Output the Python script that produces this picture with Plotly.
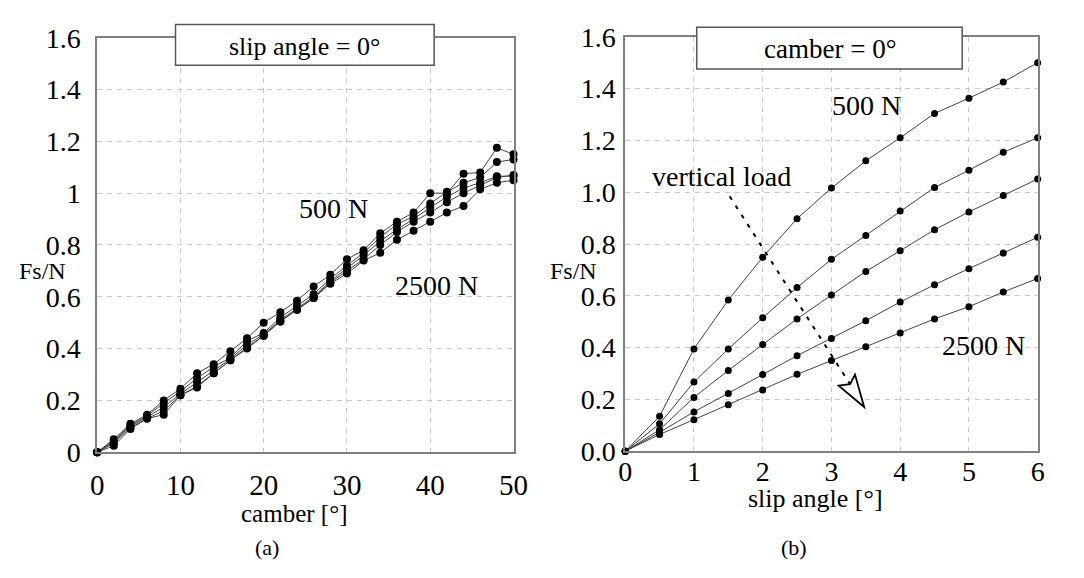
import plotly.graph_objects as go

# ---------------- data ----------------
camber = [0, 2, 4, 6, 8, 10, 12, 14, 16, 18, 20, 22, 24, 26, 28, 30, 32, 34, 36, 38, 40, 42, 44, 46, 48, 50]
fs_camber_500 = [0, 0.05, 0.11, 0.145, 0.20, 0.245, 0.305, 0.34, 0.39, 0.44, 0.50, 0.54, 0.585, 0.64, 0.685,
                 0.745, 0.78, 0.845, 0.89, 0.925, 1.00, 1.00, 1.075, 1.08, 1.175, 1.15]
fs_camber_1000 = [0, 0.045, 0.105, 0.14, 0.19, 0.235, 0.285, 0.33, 0.365, 0.43, 0.46, 0.52, 0.565, 0.61, 0.67,
                  0.72, 0.77, 0.83, 0.88, 0.91, 0.96, 1.005, 1.04, 1.06, 1.12, 1.13]
fs_camber_1500 = [0, 0.04, 0.10, 0.135, 0.175, 0.225, 0.27, 0.315, 0.36, 0.415, 0.455, 0.51, 0.555, 0.60, 0.66,
                  0.71, 0.76, 0.815, 0.86, 0.90, 0.945, 0.985, 1.02, 1.04, 1.065, 1.066]
fs_camber_2000 = [0, 0.035, 0.095, 0.13, 0.16, 0.22, 0.255, 0.305, 0.355, 0.405, 0.45, 0.505, 0.55, 0.595, 0.655,
                  0.70, 0.745, 0.80, 0.85, 0.89, 0.925, 0.965, 1.00, 1.03, 1.06, 1.07]
fs_camber_2500 = [0, 0.025, 0.09, 0.13, 0.145, 0.22, 0.25, 0.305, 0.355, 0.40, 0.45, 0.505, 0.55, 0.595, 0.65,
                  0.69, 0.74, 0.77, 0.82, 0.855, 0.89, 0.925, 0.95, 1.015, 1.04, 1.05]

slip = [0, 0.5, 1, 1.5, 2, 2.5, 3, 3.5, 4, 4.5, 5, 5.5, 6]
fs_slip_500 = [0, 0.135, 0.395, 0.584, 0.749, 0.898, 1.016, 1.121, 1.21, 1.304, 1.363, 1.425, 1.50]
fs_slip_1000 = [0, 0.106, 0.267, 0.395, 0.515, 0.632, 0.741, 0.833, 0.927, 1.018, 1.085, 1.154, 1.21]
fs_slip_1500 = [0, 0.083, 0.208, 0.312, 0.412, 0.511, 0.603, 0.694, 0.774, 0.855, 0.924, 0.987, 1.051]
fs_slip_2000 = [0, 0.073, 0.152, 0.223, 0.296, 0.369, 0.435, 0.504, 0.576, 0.643, 0.705, 0.765, 0.826]
fs_slip_2500 = [0, 0.065, 0.122, 0.180, 0.237, 0.297, 0.350, 0.403, 0.457, 0.511, 0.558, 0.615, 0.667]

y_ticks = [0, 0.2, 0.4, 0.6, 0.8, 1.0, 1.2, 1.4, 1.6]
camber_ticks = [0, 10, 20, 30, 40, 50]
slip_ticks = [0, 1, 2, 3, 4, 5, 6]

# arrow ("vertical load") in slip-angle panel data coordinates
arrow_start = (1.52, 0.984)
arrow_notch = (3.271, 0.259)
arrow_tip = (3.476, 0.171)
arrow_c1 = (3.105, 0.253)
arrow_c2 = (3.343, 0.296)

# ---------------- figure ----------------
FONT = "Liberation Serif, Times New Roman, serif"
LINE = "#444444"
fig = go.Figure()

for ys in [fs_camber_500, fs_camber_1000, fs_camber_1500, fs_camber_2000, fs_camber_2500]:
    fig.add_trace(go.Scatter(x=camber, y=ys, mode="lines+markers", xaxis="x", yaxis="y",
                             line=dict(color=LINE, width=1), marker=dict(color="black", size=8),
                             cliponaxis=False, showlegend=False))
for ys in [fs_slip_500, fs_slip_1000, fs_slip_1500, fs_slip_2000, fs_slip_2500]:
    fig.add_trace(go.Scatter(x=slip, y=ys, mode="lines+markers", xaxis="x2", yaxis="y2",
                             line=dict(color=LINE, width=1), marker=dict(color="black", size=7),
                             cliponaxis=False, showlegend=False))

W, H = 1084, 578
axis_common = dict(showline=True, linecolor="#808080", linewidth=1.5, mirror=True,
                   showgrid=True, gridcolor="#c8c8c8", gridwidth=1, griddash="5px,5px",
                   zeroline=False, ticks="", color="black")

fig.update_layout(
    width=W, height=H, margin=dict(l=0, r=0, t=0, b=0),
    paper_bgcolor="white", plot_bgcolor="white",
    font=dict(family=FONT, color="black", size=26),
    xaxis=dict(domain=[92 / W, 517 / W], range=[0, 50], tickvals=camber_ticks, anchor="y",
               tickfont=dict(size=29), ticklabelstandoff=6, **axis_common),
    yaxis=dict(domain=[1 - 462 / H, 1 - 24 / H], range=[0, 1.6], tickvals=y_ticks, anchor="x",
               ticktext=["0", "0.2", "0.4", "0.6", "0.8", "1", "1.2", "1.4", "1.6"],
               tickfont=dict(size=28), ticklabelstandoff=9, **axis_common),
    xaxis2=dict(domain=[631 / W, 1052 / W], range=[0, 6], tickvals=slip_ticks, anchor="y2",
                tickfont=dict(size=28), ticklabelstandoff=-6, **axis_common),
    yaxis2=dict(domain=[1 - 461 / H, 1 - 23 / H], range=[0, 1.6], tickvals=y_ticks, anchor="x2",
                tickformat=".1f", tickfont=dict(size=28), ticklabelstandoff=2, **axis_common),
)

shapes = []
# title boxes
shapes.append(dict(type="rect", xref="paper", yref="paper", x0=172 / W, x1=436 / W,
                   y0=1 - 53 / H, y1=1 - 10 / H, line=dict(color="#555555", width=1.5),
                   fillcolor="white", layer="above"))
shapes.append(dict(type="rect", xref="paper", yref="paper", x0=704 / W, x1=975 / W,
                   y0=1 - 57 / H, y1=1 - 13 / H, line=dict(color="#555555", width=1.5),
                   fillcolor="white", layer="above"))
# dashed arrow line
shapes.append(dict(type="line", xref="x2", yref="y2", x0=arrow_start[0], y0=arrow_start[1],
                   x1=arrow_notch[0], y1=arrow_notch[1],
                   line=dict(color="black", width=2, dash="4px,7px"), layer="above"))
# open arrowhead
path = (f"M {arrow_tip[0]},{arrow_tip[1]} L {arrow_c1[0]},{arrow_c1[1]} "
        f"L {arrow_notch[0]},{arrow_notch[1]} L {arrow_c2[0]},{arrow_c2[1]} Z")
shapes.append(dict(type="path", xref="x2", yref="y2", path=path,
                   line=dict(color="black", width=1.8), fillcolor="white", layer="above"))
fig.update_layout(shapes=shapes)

ann = []
def paper_text(txt, px, py, size):
    ann.append(dict(text=txt, xref="paper", yref="paper", x=px / W, y=1 - py / H,
                    xanchor="center", yanchor="middle", showarrow=False,
                    font=dict(family=FONT, size=size, color="black")))

def data_text(txt, xr, yr, x, y, size):
    ann.append(dict(text=txt, xref=xr, yref=yr, x=x, y=y, xanchor="center", yanchor="middle",
                    showarrow=False, font=dict(family=FONT, size=size, color="black")))

paper_text("slip angle = 0°", 304, 33, 26)
paper_text("camber = 0°", 840, 36, 27)
paper_text("Fs/N", 36, 270, 24)
paper_text("Fs/N", 578, 270, 24)
paper_text("camber [°]", 293, 527, 25)
paper_text("slip angle [°]", 825, 511, 26)
paper_text("(a)", 265, 563, 22)
paper_text("(b)", 803, 563, 22)

data_text("500 N", "x", "y", 28.4, 0.94, 28)
data_text("2500 N", "x", "y", 40.7, 0.645, 28)
data_text("500 N", "x2", "y2", 3.51, 1.334, 28)
data_text("vertical load", "x2", "y2", 1.4, 1.06, 28)
data_text("2500 N", "x2", "y2", 5.21, 0.41, 28)
fig.update_layout(annotations=ann)

fig.write_html("out.html")
